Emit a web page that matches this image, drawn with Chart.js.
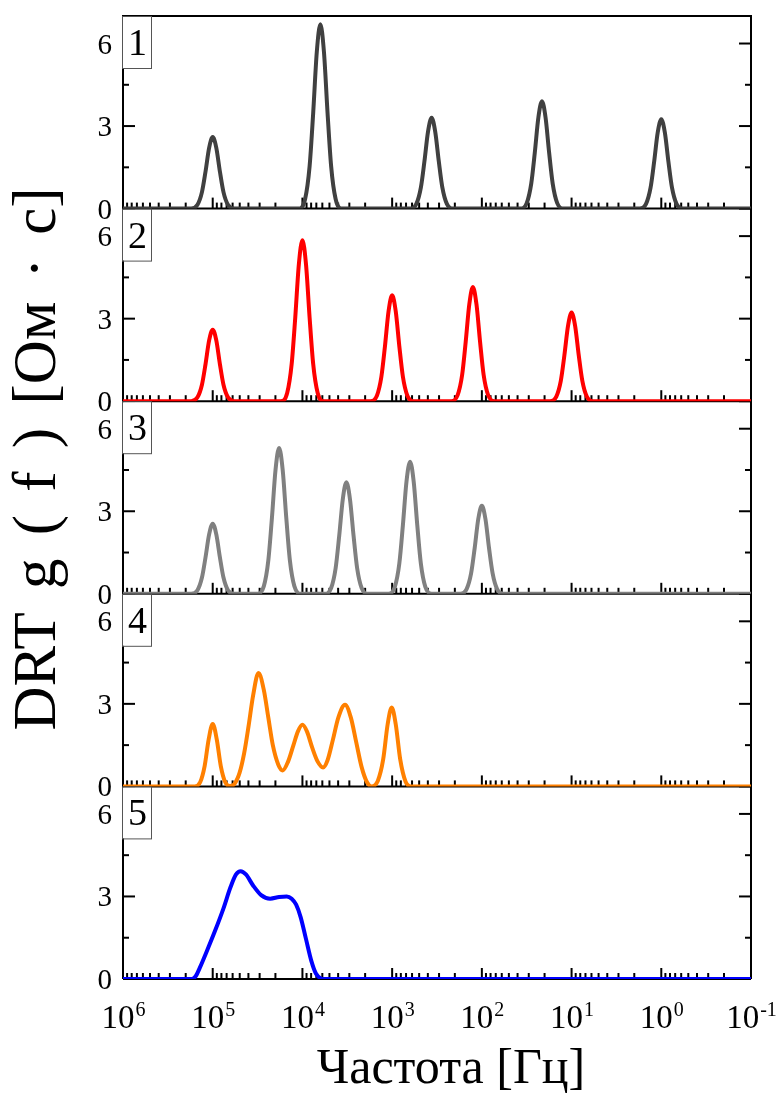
<!DOCTYPE html>
<html>
<head>
<meta charset="utf-8">
<script src="https://cdn.jsdelivr.net/npm/chart.js@4.4.1/dist/chart.umd.min.js"></script>
<style>
html,body{margin:0;padding:0;background:#fff;}
#wrap{position:relative;width:779px;height:1094px;}
canvas{display:block;}
</style>
</head>
<body>
<div id="wrap"><canvas id="c" width="779" height="1094"></canvas></div>
<script>
// ---- tick labels / text ----
const xTickExponents = [6, 5, 4, 3, 2, 1, 0, -1];
const xTickBase = '10';
const xTickExpLabels = ['6', '5', '4', '3', '2', '1', '0', '-1'];
const yTickValues = [0, 3, 6];
const yTickLabels = ['0', '3', '6'];
const yMinorTickValues = [1.5, 4.5];
const panelLabels = ['1', '2', '3', '4', '5'];
const panelColors = ['#404040', '#ff0000', '#808080', '#ff8000', '#0000ff'];
const xTitle = 'Частота [Гц]';
const yTitle = 'DRT g ( f ) [Ом · с]';

// ---- data: log10(frequency / Hz) and DRT g(f) [Ом·с] ----
const logF1 = [6,
  5.24, 5.17, 5.12, 5.08, 5.04, 5.00, 4.96, 4.92, 4.88, 4.83, 4.76,
  4.04, 3.97, 3.92, 3.88, 3.84, 3.80, 3.76, 3.72, 3.68, 3.63, 3.56,
  2.80, 2.73, 2.68, 2.64, 2.60, 2.56, 2.52, 2.48, 2.44, 2.39, 2.32,
  1.57, 1.50, 1.45, 1.41, 1.37, 1.33, 1.29, 1.25, 1.21, 1.16, 1.09,
  0.24, 0.17, 0.12, 0.08, 0.04, 0.00, -0.04, -0.08, -0.12, -0.17, -0.24,
  -1];
const g1 = [0,
  0, 0.14, 0.60, 1.35, 2.21, 2.60, 2.21, 1.35, 0.60, 0.14, 0,
  0, 0.35, 1.54, 3.48, 5.69, 6.70, 5.69, 3.48, 1.54, 0.35, 0,
  0, 0.17, 0.76, 1.72, 2.80, 3.30, 2.80, 1.72, 0.76, 0.17, 0,
  0, 0.20, 0.90, 2.03, 3.31, 3.90, 3.31, 2.03, 0.90, 0.20, 0,
  0, 0.17, 0.75, 1.69, 2.76, 3.25, 2.76, 1.69, 0.75, 0.17, 0,
  0];

const logF2 = [6,
  5.24, 5.17, 5.12, 5.08, 5.04, 5.00, 4.96, 4.92, 4.88, 4.83, 4.76,
  4.24, 4.17, 4.12, 4.08, 4.04, 4.00, 3.96, 3.92, 3.88, 3.83, 3.76,
  3.24, 3.17, 3.12, 3.08, 3.04, 3.00, 2.96, 2.92, 2.88, 2.83, 2.76,
  2.34, 2.27, 2.22, 2.18, 2.14, 2.10, 2.06, 2.02, 1.98, 1.93, 1.86,
  1.24, 1.17, 1.12, 1.08, 1.04, 1.00, 0.96, 0.92, 0.88, 0.83, 0.76,
  -1];
const g2 = [0,
  0, 0.14, 0.60, 1.35, 2.21, 2.60, 2.21, 1.35, 0.60, 0.14, 0,
  0, 0.30, 1.35, 3.04, 4.97, 5.85, 4.97, 3.04, 1.35, 0.30, 0,
  0, 0.20, 0.89, 2.00, 3.27, 3.85, 3.27, 2.00, 0.89, 0.20, 0,
  0, 0.22, 0.95, 2.16, 3.52, 4.15, 3.52, 2.16, 0.95, 0.22, 0,
  0, 0.17, 0.74, 1.67, 2.73, 3.22, 2.73, 1.67, 0.74, 0.17, 0,
  0];

const logF3 = [6,
  5.24, 5.17, 5.12, 5.08, 5.04, 5.00, 4.96, 4.92, 4.88, 4.83, 4.76,
  4.50, 4.43, 4.38, 4.34, 4.30, 4.26, 4.22, 4.18, 4.14, 4.09, 4.02,
  3.75, 3.68, 3.63, 3.59, 3.55, 3.51, 3.47, 3.43, 3.39, 3.34, 3.27,
  3.04, 2.97, 2.92, 2.88, 2.84, 2.80, 2.76, 2.72, 2.68, 2.63, 2.56,
  2.24, 2.17, 2.12, 2.08, 2.04, 2.00, 1.96, 1.92, 1.88, 1.83, 1.76,
  -1];
const g3 = [0,
  0, 0.13, 0.59, 1.33, 2.16, 2.55, 2.16, 1.33, 0.59, 0.13, 0,
  0, 0.28, 1.22, 2.76, 4.50, 5.30, 4.50, 2.76, 1.22, 0.28, 0,
  0, 0.21, 0.93, 2.11, 3.44, 4.05, 3.44, 2.11, 0.93, 0.21, 0,
  0, 0.25, 1.10, 2.50, 4.08, 4.80, 4.08, 2.50, 1.10, 0.25, 0,
  0, 0.17, 0.74, 1.66, 2.72, 3.20, 2.72, 1.66, 0.74, 0.17, 0,
  0];

const logF4 = [6,
  5.20, 5.14, 5.09, 5.045, 5.00, 4.955, 4.91, 4.86, 4.81,
  4.76, 4.70, 4.65, 4.60, 4.55, 4.49, 4.43, 4.38, 4.33, 4.27, 4.22,
  4.16, 4.10, 4.05, 4.00, 3.95, 3.89, 3.83, 3.77,
  3.72, 3.66, 3.60, 3.525, 3.46, 3.40, 3.34, 3.28, 3.23,
  3.16, 3.10, 3.05, 3.005, 2.96, 2.91, 2.85, 2.79,
  -1];
const g4 = [0,
  0, 0.15, 0.74, 1.71, 2.27, 1.71, 0.74, 0.15, 0.01,
  0.08, 0.50, 1.20, 2.20, 3.30, 4.12, 3.50, 2.50, 1.50, 0.80, 0.58,
  0.90, 1.50, 2.00, 2.24, 2.00, 1.40, 0.90, 0.69,
  0.95, 1.70, 2.50, 2.97, 2.50, 1.60, 0.70, 0.15, 0.00,
  0.20, 0.98, 2.26, 2.87, 2.26, 0.98, 0.17, 0,
  0];

const logF5 = [6, 5.234, 5.19, 5.142, 5.067, 4.974, 4.882, 4.80, 4.74, 4.688, 4.63, 4.55,
  4.46, 4.36, 4.26, 4.175, 4.12, 4.07, 4.02, 3.96, 3.90, 3.85, 3.80, 3.76, -1];
const g5 = [0, 0, 0.10, 0.42, 1.00, 1.75, 2.55, 3.35, 3.80, 3.92, 3.80, 3.40,
  3.05, 2.92, 2.98, 3.00, 2.92, 2.70, 2.25, 1.45, 0.65, 0.20, 0.03, 0, 0];

const panelLogF = [logF1, logF2, logF3, logF4, logF5];
const panelG = [g1, g2, g3, g4, g5];
const panelIds = ['y1', 'y2', 'y3', 'y4', 'y5'];

const SERIF = "'Liberation Serif', 'DejaVu Serif', serif";
Chart.defaults.font.family = SERIF;
Chart.defaults.color = '#000';

const datasets = panelIds.map((id, i) => ({
  label: 'Панель ' + panelLabels[i],
  data: panelLogF[i].map((e, k) => ({x: Math.pow(10, e), y: panelG[i][k]})),
  xAxisID: 'x',
  yAxisID: id,
  borderColor: panelColors[i],
  backgroundColor: panelColors[i],
  borderWidth: 4,
  pointRadius: 0,
  pointHoverRadius: 0,
  fill: false,
  cubicInterpolationMode: 'monotone'
}));

function makeY(i) {
  return {
    type: 'linear',
    position: 'left',
    stack: 'panels',
    stackWeight: 1,
    weight: 5 - i,
    min: 0,
    max: 7,
    afterBuildTicks: s => { s.ticks = yTickValues.map(v => ({value: v})); },
    afterFit: s => { s.width = 123; s.paddingTop = 0; s.paddingBottom = 0; },
    ticks: {display: false},
    grid: {display: false, drawTicks: false},
    border: {display: false}
  };
}

const scales = {
  x: {
    type: 'logarithmic',
    position: 'bottom',
    reverse: true,
    min: 0.1,
    max: 1e6,
    afterBuildTicks: s => { s.ticks = xTickExponents.map(e => ({value: Math.pow(10, e)})); },
    afterFit: s => { s.height = 115; s.paddingLeft = 0; s.paddingRight = 0; },
    ticks: {display: false, autoSkip: false, maxRotation: 0},
    grid: {display: false, drawTicks: false},
    border: {display: false}
  }
};
panelIds.forEach((id, i) => { scales[id] = makeY(i); });

function seg(ctx, x1, y1, x2, y2) {
  ctx.beginPath(); ctx.moveTo(x1, y1); ctx.lineTo(x2, y2); ctx.stroke();
}

const framePlugin = {
  id: 'framePlugin',
  beforeDatasetsDraw(chart) {
    const {ctx, chartArea: ca, scales: sc} = chart;
    const xs = sc.x;
    ctx.save();
    ctx.strokeStyle = '#000';
    ctx.lineWidth = 2;
    panelIds.forEach(id => {
      const ys = sc[id];
      const yb = ys.getPixelForValue(0);
      for (let e = -1; e <= 6; e++) {
        const p = xs.getPixelForValue(Math.pow(10, e));
        seg(ctx, p, yb, p, yb - 11);
        if (e < 6) {
          for (let m = 2; m <= 9; m++) {
            const q = xs.getPixelForValue(m * Math.pow(10, e));
            seg(ctx, q, yb, q, yb - 6);
          }
        }
      }
      yTickValues.forEach(v => {
        const py = ys.getPixelForValue(v);
        seg(ctx, ca.left, py, ca.left + 12, py);
        seg(ctx, ca.right, py, ca.right - 12, py);
      });
      yMinorTickValues.forEach(v => {
        const py = ys.getPixelForValue(v);
        seg(ctx, ca.left, py, ca.left + 6, py);
        seg(ctx, ca.right, py, ca.right - 6, py);
      });
      seg(ctx, ca.left, yb, ca.right, yb);
    });
    seg(ctx, ca.left - 1, ca.top, ca.right + 1, ca.top);
    seg(ctx, ca.left, ca.top, ca.left, ca.bottom);
    seg(ctx, ca.right, ca.top, ca.right, ca.bottom);
    ctx.restore();
  },
  afterDatasetsDraw(chart) {
    const {ctx, chartArea: ca, scales: sc} = chart;
    const xs = sc.x;
    ctx.save();
    panelIds.forEach((id, i) => {
      const ys = sc[id];
      const top = ys.getPixelForValue(7);
      ctx.fillStyle = '#fff';
      ctx.fillRect(ca.left, top + 1, 28, 51);
      ctx.strokeStyle = '#555';
      ctx.lineWidth = 1;
      ctx.strokeRect(ca.left - 0.5, top + 0.5, 29, 52);
      ctx.fillStyle = '#000';
      ctx.font = "38px " + SERIF;
      ctx.textAlign = 'center';
      ctx.textBaseline = 'alphabetic';
      ctx.fillText(panelLabels[i], ca.left + 14.5, top + 39);
      // y tick labels, placed by this panel's y scale
      ctx.font = "29px " + SERIF;
      ctx.textAlign = 'right';
      yTickValues.forEach((v, k) => {
        ctx.fillText(yTickLabels[k], ca.left - 11, ys.getPixelForValue(v) + 10);
      });
    });
    // x tick labels: 10 with raised exponent, placed by the x scale
    ctx.fillStyle = '#000';
    ctx.textBaseline = 'alphabetic';
    ctx.textAlign = 'left';
    const baseY = ca.bottom + 49;
    xTickExponents.forEach((e, k) => {
      const p = xs.getPixelForValue(Math.pow(10, e));
      ctx.font = "33px " + SERIF;
      const w1 = ctx.measureText(xTickBase).width;
      ctx.font = "20px " + SERIF;
      const w2 = ctx.measureText(xTickExpLabels[k]).width;
      const x0 = p - (w1 + w2) / 2;
      ctx.font = "33px " + SERIF;
      ctx.fillText(xTickBase, x0, baseY);
      ctx.font = "20px " + SERIF;
      ctx.fillText(xTickExpLabels[k], x0 + w1 + 1, baseY - 12);
    });
    // axis titles
    ctx.font = "50px " + SERIF;
    ctx.textAlign = 'center';
    ctx.fillText(xTitle, 451, 1083);
    ctx.translate(55, 459);
    ctx.rotate(-Math.PI / 2);
    ctx.font = "61px " + SERIF;
    ctx.wordSpacing = '8px';
    ctx.fillText(yTitle, 0, 0);
    ctx.restore();
  }
};

new Chart(document.getElementById('c'), {
  type: 'line',
  data: {datasets},
  options: {
    responsive: false,
    devicePixelRatio: 1,
    animation: false,
    layout: {padding: {top: 16, right: 28, left: 0, bottom: 0}},
    plugins: {legend: {display: false}, tooltip: {enabled: false}},
    events: [],
    scales
  },
  plugins: [framePlugin]
});
</script>
</body>
</html>
